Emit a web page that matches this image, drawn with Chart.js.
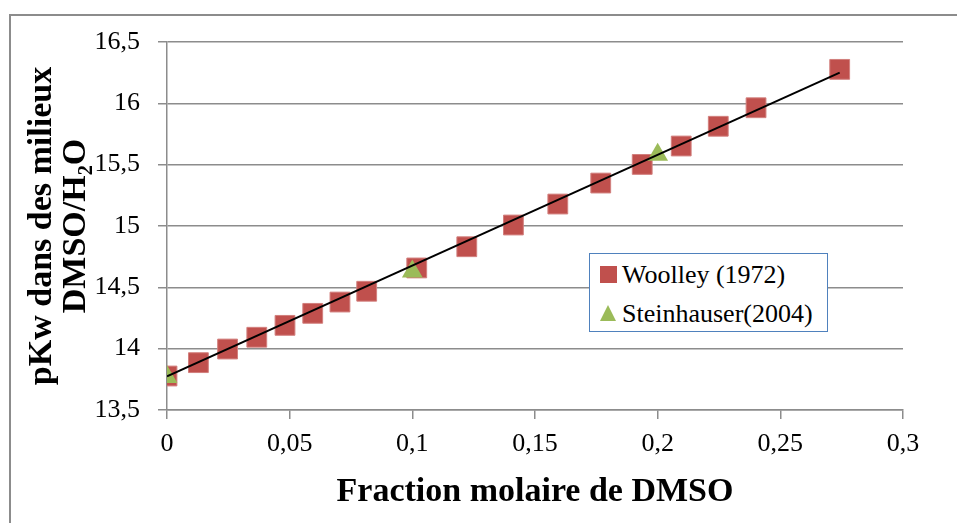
<!DOCTYPE html>
<html><head><meta charset="utf-8">
<script src="https://cdn.jsdelivr.net/npm/chart.js@4.4.1/dist/chart.umd.min.js"></script>
<style>
html,body{margin:0;padding:0;background:#fff;width:957px;height:523px;overflow:hidden;}
#frame{position:absolute;left:9px;top:14px;width:970px;height:530px;border:2px solid #8c8c8c;box-sizing:border-box;}
#wrap{position:absolute;left:0;top:0;width:957px;height:523px;}
#legend{position:absolute;left:589px;top:253px;width:239px;height:79px;border:1.5px solid #4F81BD;background:#fff;box-sizing:border-box;font-family:'Liberation Serif','Times New Roman',serif;font-size:26px;color:#000;}
.row{position:absolute;left:0;height:34px;line-height:34px;white-space:nowrap;}
.txt{position:absolute;left:32px;top:0;}
.sq{position:absolute;left:10px;top:8px;width:17px;height:17px;}
.tri{position:absolute;left:10px;top:8px;width:0;height:0;border-left:8.5px solid transparent;border-right:8.5px solid transparent;border-bottom:16px solid #9BBB59;}
</style></head>
<body>
<div id="frame"></div>
<div id="wrap"><canvas id="c" width="957" height="523"></canvas></div>
<div id="legend"></div>
<script>
const xTicks = [0, 0.05, 0.1, 0.15, 0.2, 0.25, 0.3];
const xTickLabels = ['0', '0,05', '0,1', '0,15', '0,2', '0,25', '0,3'];
const yTicks = [13.5, 14, 14.5, 15, 15.5, 16, 16.5];
const yTickLabels = ['13,5', '14', '14,5', '15', '15,5', '16', '16,5'];

const woolleyLabel = 'Woolley (1972)';
const woolleyX = [0, 0.0128, 0.0247, 0.0366, 0.0481, 0.0594, 0.0705, 0.0814, 0.1018, 0.1222, 0.1412, 0.1593, 0.1768, 0.1937, 0.2096, 0.2247, 0.2401, 0.2742];
const woolleyY = [13.777, 13.886, 13.997, 14.093, 14.19, 14.288, 14.38, 14.468, 14.658, 14.831, 15.008, 15.179, 15.35, 15.502, 15.652, 15.813, 15.964, 16.277];

const steinLabel = 'Steinhauser(2004)';
const steinX = [0, 0.1, 0.2];
const steinY = [13.77, 14.63, 15.58];

const trendX = [0, 0.2742];
const trendY = [13.775, 16.25];

const SERIF = "'Liberation Serif','Times New Roman',serif";
const GRID = '#8c8c8c';

const toPts = (xs, ys) => xs.map((x, i) => ({x: x, y: ys[i]}));

const chart = new Chart(document.getElementById('c'), {
  type: 'scatter',
  data: {
    datasets: [
      {label: 'trend', data: toPts(trendX, trendY), showLine: true, borderColor: '#000', borderWidth: 2, pointRadius: 0, order: 0, fill: false},
      {label: woolleyLabel, data: toPts(woolleyX, woolleyY), pointStyle: 'rect', pointRadius: 14, backgroundColor: '#C0504D', borderColor: '#d27f7d', borderWidth: 1, order: 2},
      {label: steinLabel, data: toPts(steinX, steinY), pointStyle: 'triangle', pointRadius: 12, backgroundColor: '#9BBB59', borderColor: '#9BBB59', borderWidth: 0, order: 1}
    ]
  },
  options: {
    responsive: false,
    animation: false,
    devicePixelRatio: 1,
    layout: {padding: {left: 0, top: 42, right: 54, bottom: 0}},
    plugins: {legend: {display: false}, tooltip: {enabled: false}},
    scales: {
      x: {
        type: 'linear', position: 'bottom', min: 0, max: 0.3,
        afterBuildTicks: s => { s.ticks = xTicks.map(v => ({value: v})); },
        afterFit: s => { s.height = 113; },
        ticks: {callback: (v, i) => xTickLabels[i], font: {family: SERIF, size: 26}, color: '#000', padding: 10, maxRotation: 0, autoSkip: false},
        grid: {drawOnChartArea: false, drawTicks: true, tickLength: 9, color: GRID, lineWidth: 1.5},
        border: {display: true, color: GRID, width: 1.5},
        title: {display: true, text: 'Fraction molaire de DMSO', font: {family: SERIF, size: 34, weight: 'bold'}, color: '#000', padding: {top: 0, bottom: 10}}
      },
      y: {
        type: 'linear', position: 'left', min: 13.5, max: 16.5,
        afterBuildTicks: s => { s.ticks = yTicks.map(v => ({value: v})); },
        afterFit: s => { s.width = 167; },
        ticks: {callback: (v, i) => yTickLabels[i], font: {family: SERIF, size: 26}, color: '#000', padding: 18, autoSkip: false},
        grid: {drawOnChartArea: true, drawTicks: true, tickLength: 9, color: GRID, lineWidth: 1.5},
        border: {display: true, color: GRID, width: 1.5},
        title: {display: true, text: ['pKw dans des milieux', 'DMSO/H\u2082O'], font: {family: SERIF, size: 34, weight: 'bold', lineHeight: 1.0}, color: '#000', padding: {top: 25, bottom: 0}}
      }
    }
  }
});

// HTML legend built from the chart's datasets
const leg = document.getElementById('legend');
chart.data.datasets.filter(d => d.label !== 'trend').forEach((d, i) => {
  const row = document.createElement('div');
  row.className = 'row';
  row.style.top = (4 + i * 39) + 'px';
  row.style.width = '100%';
  const m = document.createElement('div');
  if (d.pointStyle === 'rect') { m.className = 'sq'; m.style.background = d.backgroundColor; }
  else { m.className = 'tri'; m.style.borderBottomColor = d.backgroundColor; }
  const t = document.createElement('span');
  t.className = 'txt';
  t.textContent = d.label;
  row.appendChild(m); row.appendChild(t);
  leg.appendChild(row);
});
</script>
</body></html>
